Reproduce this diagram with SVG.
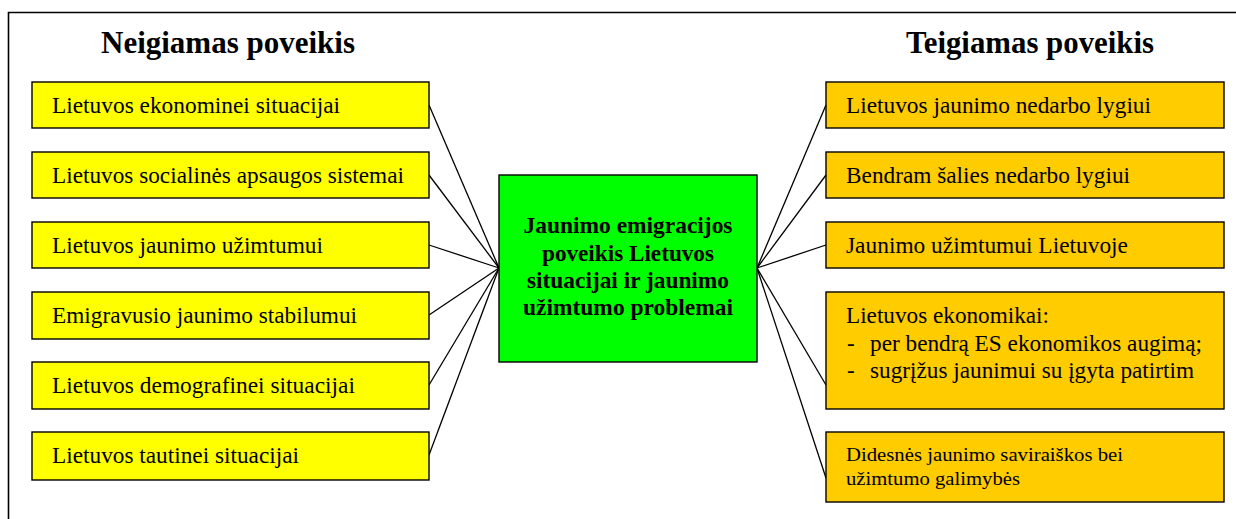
<svg xmlns="http://www.w3.org/2000/svg" width="1236" height="519" viewBox="0 0 1236 519">
<style>
text{font-family:"Liberation Serif","Times New Roman",serif;fill:#000}
.h{font-size:31px;font-weight:bold}
.t{font-size:23px}
.s{font-size:18px}
.c{font-size:23px;font-weight:bold;text-anchor:middle}
.y{fill:#ffff00;stroke:#000;stroke-width:1.4}
.o{fill:#ffcc00;stroke:#000;stroke-width:1.4}
.g{fill:#00ff00;stroke:#000;stroke-width:1.4}
.ln{stroke:#000;stroke-width:1.3;fill:none}
</style>
<rect width="1236" height="519" fill="#fff"/>
<path d="M8.5,530 V12.5 H1250" fill="none" stroke="#000" stroke-width="1.6"/>
<text class="h" x="101" y="53" textLength="254" lengthAdjust="spacingAndGlyphs">Neigiamas poveikis</text>
<text class="h" x="906" y="53" textLength="248" lengthAdjust="spacingAndGlyphs">Teigiamas poveikis</text>
<g id="connectors">
<line class="ln" x1="429" y1="105" x2="499" y2="268"/>
<line class="ln" x1="429" y1="175" x2="499" y2="268"/>
<line class="ln" x1="429" y1="245" x2="499" y2="268"/>
<line class="ln" x1="429" y1="315" x2="499" y2="268"/>
<line class="ln" x1="429" y1="385" x2="499" y2="268"/>
<line class="ln" x1="429" y1="455" x2="499" y2="268"/>
<line class="ln" x1="757" y1="268" x2="826" y2="105"/>
<line class="ln" x1="757" y1="268" x2="826" y2="175"/>
<line class="ln" x1="757" y1="268" x2="826" y2="245"/>
<line class="ln" x1="757" y1="268" x2="826" y2="385"/>
<line class="ln" x1="757" y1="268" x2="826" y2="478"/>
</g>
<g id="center">
<rect class="g" x="499" y="175" width="258" height="187"/>
<text class="c" x="628" y="233" textLength="209" lengthAdjust="spacingAndGlyphs">Jaunimo emigracijos</text>
<text class="c" x="628" y="261" textLength="172" lengthAdjust="spacingAndGlyphs">poveikis Lietuvos</text>
<text class="c" x="628" y="288" textLength="202" lengthAdjust="spacingAndGlyphs">situacijai ir jaunimo</text>
<text class="c" x="628" y="315" textLength="210" lengthAdjust="spacingAndGlyphs">užimtumo problemai</text>
</g>
<g id="n1"><rect class="y" x="32" y="82" width="397" height="46"/><text class="t" x="52" y="113" textLength="288" lengthAdjust="spacingAndGlyphs">Lietuvos ekonominei situacijai</text></g>
<g id="n2"><rect class="y" x="32" y="152" width="397" height="46"/><text class="t" x="52" y="183" textLength="352" lengthAdjust="spacingAndGlyphs">Lietuvos socialinės apsaugos sistemai</text></g>
<g id="n3"><rect class="y" x="32" y="222" width="397" height="46"/><text class="t" x="52" y="253" textLength="271" lengthAdjust="spacingAndGlyphs">Lietuvos jaunimo užimtumui</text></g>
<g id="n4"><rect class="y" x="32" y="292" width="397" height="47"/><text class="t" x="52" y="323" textLength="305" lengthAdjust="spacingAndGlyphs">Emigravusio jaunimo stabilumui</text></g>
<g id="n5"><rect class="y" x="32" y="362" width="397" height="47"/><text class="t" x="52" y="393" textLength="303" lengthAdjust="spacingAndGlyphs">Lietuvos demografinei situacijai</text></g>
<g id="n6"><rect class="y" x="32" y="432" width="397" height="48"/><text class="t" x="52" y="463" textLength="247" lengthAdjust="spacingAndGlyphs">Lietuvos tautinei situacijai</text></g>
<g id="p1"><rect class="o" x="826" y="82" width="398" height="46"/><text class="t" x="846" y="113" textLength="305" lengthAdjust="spacingAndGlyphs">Lietuvos jaunimo nedarbo lygiui</text></g>
<g id="p2"><rect class="o" x="826" y="152" width="398" height="46"/><text class="t" x="846" y="183" textLength="284" lengthAdjust="spacingAndGlyphs">Bendram šalies nedarbo lygiui</text></g>
<g id="p3"><rect class="o" x="826" y="222" width="398" height="46"/><text class="t" x="846" y="253" textLength="282" lengthAdjust="spacingAndGlyphs">Jaunimo užimtumui Lietuvoje</text></g>
<g id="p4"><rect class="o" x="826" y="292" width="398" height="117"/>
<text class="t" x="846" y="323" textLength="203" lengthAdjust="spacingAndGlyphs">Lietuvos ekonomikai:</text>
<text class="t" x="847" y="351">-</text><text class="t" x="870" y="351" textLength="332" lengthAdjust="spacingAndGlyphs">per bendrą ES ekonomikos augimą;</text>
<text class="t" x="847" y="378">-</text><text class="t" x="870" y="378" textLength="324" lengthAdjust="spacingAndGlyphs">sugrįžus jaunimui su įgyta patirtim</text>
</g>
<g id="p5"><rect class="o" x="826" y="432" width="398" height="70"/>
<text class="s" x="846" y="461" textLength="277" lengthAdjust="spacingAndGlyphs">Didesnės jaunimo saviraiškos bei</text>
<text class="s" x="846" y="485" textLength="174" lengthAdjust="spacingAndGlyphs">užimtumo galimybės</text>
</g>
</svg>
